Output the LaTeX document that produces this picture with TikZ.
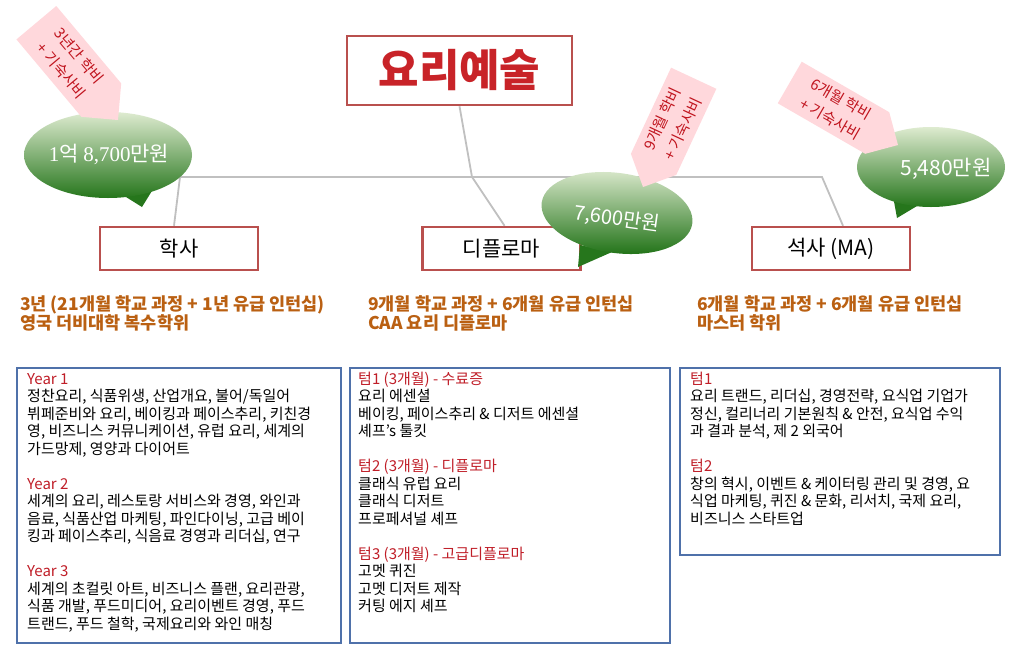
\documentclass[tikz,border=0pt]{standalone}
\usepackage{fontspec}
\setmainfont{Noto Sans CJK KR}
\newfontfamily\numserif{Liberation Serif}
\definecolor{boxred}{RGB}{185,80,78}
\definecolor{boxblue}{RGB}{79,113,170}
\definecolor{linegray}{RGB}{192,192,192}
\definecolor{hdred}{RGB}{192,30,40}
\definecolor{subor}{RGB}{186,96,18}
\definecolor{pinkfill}{RGB}{255,216,220}
\definecolor{pinktxt}{RGB}{192,20,30}
\definecolor{gtop}{RGB}{222,235,208}
\definecolor{gbot}{RGB}{38,118,28}
\definecolor{titlered}{RGB}{200,35,40}
\newcommand\hd{\color{hdred}}
\begin{document}
\begin{tikzpicture}[x=1pt,y=-1pt,
 hdrbox/.style={draw=boxred,line width=2.5pt,fill=white,minimum width=158pt,minimum height=43pt,inner sep=0pt,font=\fontsize{21}{24}\selectfont},
 listbox/.style={draw=boxblue,line width=2.5pt},
 conn/.style={draw=linegray,line width=1.8pt},
 subtxt/.style={anchor=west,inner sep=0pt,text height=0.75em,text depth=0.2em,text=subor,font=\fontsize{17.5}{19}\selectfont\bfseries},
 bodytxt/.style={anchor=west,inner sep=0pt,text height=0.8em,text depth=0.2em,font=\fontsize{15}{17}\selectfont},
 pinkarrow/.style={fill=pinkfill},
 pinktext/.style={text=pinktxt,inner sep=0pt,align=center,font=\fontsize{15}{23}\selectfont},
 bubble/.style={top color=gtop,bottom color=gbot},
 bubtxt/.style={text=white,inner sep=0pt,font=\fontsize{20}{24}\selectfont}
]
\useasboundingbox (0,0) rectangle (1016,662);
\fill[white] (0,0) rectangle (1016,662);

% connector junctions
\coordinate (hl) at (180,177);
\coordinate (hr) at (822,177);
\coordinate (hm) at (472,177);

% title
\node[draw=boxred,line width=2.5pt,fill=white,minimum width=225pt,minimum height=69pt,
      text=titlered,font=\fontsize{44}{46}\selectfont\bfseries] (title) at (459.5,70.5) {요리예술};

% header boxes
\node[hdrbox] (hak) at (179,248.5) {학사};
\node[hdrbox] (dip) at (501.5,248.5) {디플로마};
\node[hdrbox] (ma) at (831,248.5) {석사 (MA)};

% connectors
\draw[conn] ([xshift=-5pt]hak.north) -- (hl) -- (hr) -- ([xshift=12pt]ma.north);
\draw[conn] (title.south) -- (hm) -- ([xshift=3pt]dip.north);

% subtitles
\node[subtxt] (s1a) at (20,308) {3년 (21개월 학교 과정 + 1년 유급 인턴십)};
\node[subtxt] (s1b) at (20,327) {영국 더비대학 복수학위};
\node[subtxt] (s2a) at (368,308) {9개월 학교 과정 + 6개월 유급 인턴십};
\node[subtxt] (s2b) at (368,327) {CAA 요리 디플로마};
\node[subtxt] (s3a) at (697,308) {6개월 학교 과정 + 6개월 유급 인턴십};
\node[subtxt] (s3b) at (697,327) {마스터 학위};

% list boxes
\draw[listbox] (17,368) rectangle (341,643);
\draw[listbox] (350,368) rectangle (670,643);
\draw[listbox] (680,368) rectangle (1000,555);

\foreach \i/\t in {0/{\hd Year 1},
  1/{정찬요리, 식품위생, 산업개요, 불어/독일어},
  2/{뷔페준비와 요리, 베이킹과 페이스추리, 키친경},
  3/{영, 비즈니스 커뮤니케이션, 유럽 요리, 세계의},
  4/{가드망제, 영양과 다이어트},
  6/{\hd Year 2},
  7/{세계의 요리, 레스토랑 서비스와 경영, 와인과},
  8/{음료, 식품산업 마케팅, 파인다이닝, 고급 베이},
  9/{킹과 페이스추리, 식음료 경영과 리더십, 연구},
  11/{\hd Year 3},
  12/{세계의 초컬릿 아트, 비즈니스 플랜, 요리관광,},
  13/{식품 개발, 푸드미디어, 요리이벤트 경영, 푸드},
  14/{트랜드, 푸드 철학, 국제요리와 와인 매칭}}
  \node[bodytxt] (la\i) at (27,381+17.5*\i) {\t};

\foreach \i/\t in {0/{\hd 텀1 (3개월) - 수료증},
  1/{요리 에센셜},
  2/{베이킹, 페이스추리 \& 디저트 에센셜},
  3/{셰프’s 툴킷},
  5/{\hd 텀2 (3개월) - 디플로마},
  6/{클래식 유럽 요리},
  7/{클래식 디저트},
  8/{프로페셔널 셰프},
  10/{\hd 텀3 (3개월) - 고급디플로마},
  11/{고멧 퀴진},
  12/{고멧 디저트 제작},
  13/{커팅 에지 셰프}}
  \node[bodytxt] (lb\i) at (358,381+17.5*\i) {\t};

\foreach \i/\t in {0/{\hd 텀1},
  1/{요리 트랜드, 리더십, 경영전략, 요식업 기업가},
  2/{정신, 컬리너리 기본원칙 \& 안전, 요식업 수익},
  3/{과 결과 분석, 제 2 외국어},
  5/{\hd 텀2},
  6/{창의 혁시, 이벤트 \& 케이터링 관리 및 경영, 요},
  7/{식업 마케팅, 퀴진 \& 문화, 리서치, 국제 요리,},
  8/{비즈니스 스타트업}}
  \node[bodytxt] (lc\i) at (690,381+17.5*\i) {\t};

% bubble 1
\fill[gbot] (118,192) -- (155,186) -- (142,207) -- cycle;
\shade[bubble] (108,155) ellipse [x radius=84pt, y radius=43pt];
\node[bubtxt,font=\fontsize{21}{24}\selectfont] (b1) at (109,154) {{\numserif 1}억 {\numserif 8,700}만원};

% bubble 2
\fill[gbot] (580,245) -- (612,252) -- (578,267) -- cycle;
\shade[bubble,rotate around={-8:(617,213)}] (617,213) ellipse [x radius=76pt, y radius=40pt];
\node[bubtxt,rotate=-8] (b2) at (617,219) {7,600만원};

% bubble 3
\fill[gbot] (893,196) -- (922,203) -- (897,218) -- cycle;
\shade[bubble] (931,167) ellipse [x radius=74pt, y radius=40pt];
\node[bubtxt,font=\fontsize{21}{24}\selectfont] (b3) at (946,169) {5,480만원};

% pink arrows
\begin{scope}[shift={(118,120)},rotate=-50]
 \fill[pinkarrow] (0,0) -- (-26,26) -- (-127,26) -- (-127,-26) -- (-26,-26) -- cycle;
 \node[pinktext,rotate=-50] (p1) at (-74,0) {3년간 학비\\+ 기숙사비};
\end{scope}
\begin{scope}[shift={(643,187)},rotate=245]
 \fill[pinkarrow] (0,0) -- (-25,25) -- (-120,25) -- (-120,-25) -- (-25,-25) -- cycle;
 \node[pinktext,rotate=65] (p2) at (-70,0) {9개월 학비\\+ 기숙사비};
\end{scope}
\begin{scope}[shift={(898,145)},rotate=-30]
 \fill[pinkarrow] (0,0) -- (-24,24) -- (-125,24) -- (-125,-24) -- (-24,-24) -- cycle;
 \node[pinktext,rotate=-30] (p3) at (-72,0) {6개월 학비\\+ 기숙사비};
\end{scope}
\end{tikzpicture}
\end{document}
